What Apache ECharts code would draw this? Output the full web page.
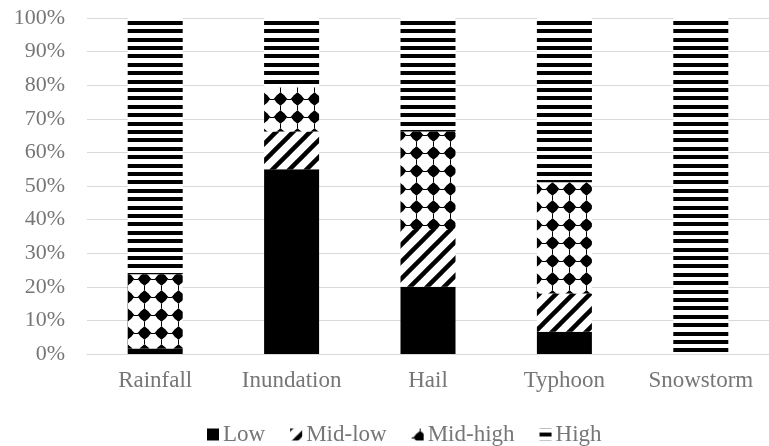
<!DOCTYPE html>
<html>
<head>
<meta charset="utf-8">
<script src="https://cdn.jsdelivr.net/npm/echarts@6/dist/echarts.min.js"></script>
<style>
html,body{margin:0;padding:0;background:#fff;}
#chart{width:769px;height:446px;}
</style>
</head>
<body>
<div id="chart"></div>
<script>
const categories = ['Rainfall', 'Inundation', 'Hail', 'Typhoon', 'Snowstorm'];
const seriesNames = ['Low', 'Mid-low', 'Mid-high', 'High'];
const low = [1.6, 55.0, 20.0, 6.6, 0];
const midLow = [0, 11.2, 16.9, 11.4, 0];
const midHigh = [22.1, 13.2, 29.3, 33.1, 0];
const high = [76.3, 20.6, 33.8, 48.9, 100];
const yTicks = [0, 10, 20, 30, 40, 50, 60, 70, 80, 90, 100];

function makeCanvas(w, h) {
  const c = document.createElement('canvas');
  c.width = w; c.height = h;
  const ctx = c.getContext('2d');
  ctx.fillStyle = '#fff';
  ctx.fillRect(0, 0, w, h);
  ctx.fillStyle = '#000';
  ctx.strokeStyle = '#000';
  return [c, ctx];
}
// horizontal stripes
function stripePattern() {
  const [c, ctx] = makeCanvas(8, 42);
  [4, 12, 21, 29, 38].forEach(y => {
    ctx.fillRect(0, y, 8, 4);
  });
  return c;
}
// diagonal upward stripes
function diagPattern() {
  const s = 17;
  const [c, ctx] = makeCanvas(s, s);
  ctx.lineWidth = 4.5;
  ctx.lineCap = 'square';
  for (let k = -1; k <= 1; k++) {
    ctx.beginPath();
    ctx.moveTo(k * s - 2, s + 2);
    ctx.lineTo(k * s + s + 2, -2);
    ctx.stroke();
  }
  return c;
}
// diamonds
function diamondPattern() {
  const w = 17, h = 18;
  const [c, ctx] = makeCanvas(w, h);
  const cx = w / 2, cy = h / 2;
  const r = 7;
  ctx.beginPath();
  ctx.moveTo(cx, cy - r);
  ctx.lineTo(cx + r, cy);
  ctx.lineTo(cx, cy + r);
  ctx.lineTo(cx - r, cy);
  ctx.closePath();
  ctx.fill();
  ctx.beginPath();
  ctx.arc(cx, cy, 5.3, 0, Math.PI * 2);
  ctx.fill();
  ctx.fillRect(0, Math.floor(cy), 2, 1);
  ctx.fillRect(w - 2, Math.floor(cy), 2, 1);
  ctx.fillRect(Math.floor(cx), 0, 1, 2);
  ctx.fillRect(Math.floor(cx), h - 2, 1, 2);
  return c;
}

const fills = [
  '#000000',
  { image: diagPattern(), repeat: 'repeat' },
  { image: diamondPattern(), repeat: 'repeat' },
  { image: stripePattern(), repeat: 'repeat' }
];
const values = [low, midLow, midHigh, high];

const font = 'Liberation Serif';
const grey = '#767676';

const chart = echarts.init(document.getElementById('chart'), null, { renderer: 'canvas' });
chart.setOption({
  animation: false,
  backgroundColor: '#ffffff',
  grid: { left: 87, top: 18, width: 693, height: 336, containLabel: false },
  legend: {
    data: seriesNames,
    left: 202,
    top: 418,
    icon: 'rect',
    itemWidth: 12,
    itemHeight: 12,
    itemGap: 25,
    textStyle: { fontFamily: font, fontSize: 23, color: grey, padding: [0, 0, 0, -1] }
  },
  xAxis: {
    type: 'category',
    data: categories,
    axisLine: { show: true, lineStyle: { color: '#d9d9d9', width: 1 } },
    axisTick: { show: false },
    axisLabel: { fontFamily: font, fontSize: 23, color: grey, margin: 15 }
  },
  yAxis: {
    type: 'value',
    min: yTicks[0],
    max: yTicks[yTicks.length - 1],
    interval: 10,
    axisLine: { show: false },
    axisTick: { show: false },
    splitLine: { lineStyle: { color: '#d9d9d9', width: 1 } },
    axisLabel: { fontFamily: font, fontSize: 22, color: grey, margin: 22, formatter: '{value}%' }
  },
  series: seriesNames.map((name, i) => ({
    name: name,
    type: 'bar',
    stack: 'total',
    barWidth: 55,
    data: values[i],
    itemStyle: { color: fills[i] }
  }))
});
</script>
</body>
</html>
